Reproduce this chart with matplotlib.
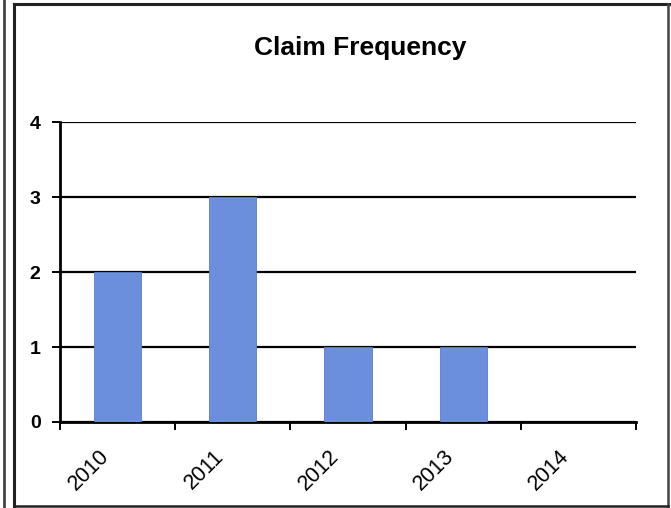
import numpy as np
import matplotlib.pyplot as plt
import matplotlib.transforms as mtransforms
from matplotlib.lines import Line2D

years = ["2010", "2011", "2012", "2013", "2014"]
claims = [2, 3, 1, 1, 0]

plt.rcParams['font.family'] = ['Liberation Sans', 'DejaVu Sans']

fig = plt.figure(figsize=(6.71, 5.08), dpi=100)
ax = fig.add_axes([0.0894, 0.1693, 0.8584, 0.5905])

x = np.arange(len(years))
ax.bar(x, claims, width=0.41, color="#6b8fdd", edgecolor="#5a7cc8", linewidth=0.6, zorder=3)

ax.set_xlim(-0.5, len(years) - 0.5)
ax.set_ylim(0, 4)
ax.set_yticks([0, 1, 2, 3, 4])
ax.set_yticklabels(["0", "1", "2", "3", "4"], fontsize=14, fontweight="bold")
ax.yaxis.grid(True, color="black", linewidth=1.6, zorder=1)

# tick marks at category boundaries, year labels under each bar
ax.set_xticks(np.arange(len(years) + 1) - 0.5)
ax.set_xticklabels([])
ax.tick_params(axis="x", which="major", length=6, width=1.4, direction="out")
ax.tick_params(axis="y", length=6, width=1.4, direction="out", pad=8)

shift = mtransforms.ScaledTranslation(-12 / 100, -31 / 100, fig.dpi_scale_trans)
for xi, yr in zip(x, years):
    ax.text(xi, 0, yr, transform=ax.get_xaxis_transform() + shift,
            rotation=45, rotation_mode="anchor", ha="right", va="center",
            fontsize=15.5)

for side in ["top", "right"]:
    ax.spines[side].set_visible(False)
for side in ["left", "bottom"]:
    ax.spines[side].set_linewidth(2.0)

fig.text(0.5365, 0.9055, "Claim Frequency", ha="center", va="center",
         fontsize=19, fontweight="bold")

# frame around the chart
W, H = 671, 508
def px_line(xs, ys, lw, c="#222222"):
    fig.add_artist(Line2D([v / W for v in xs], [1 - v / H for v in ys],
                          transform=fig.transFigure, color=c, linewidth=lw))

px_line([4, 4], [0, 508], 2.0, "#444444")
px_line([14, 14], [4, 508], 2.2)
px_line([14, 670], [4, 4], 2.2)
px_line([668, 668], [4, 508], 1.8, "#444444")
px_line([14, 668], [506, 506], 1.8)

fig.savefig("out.png", dpi=100)
